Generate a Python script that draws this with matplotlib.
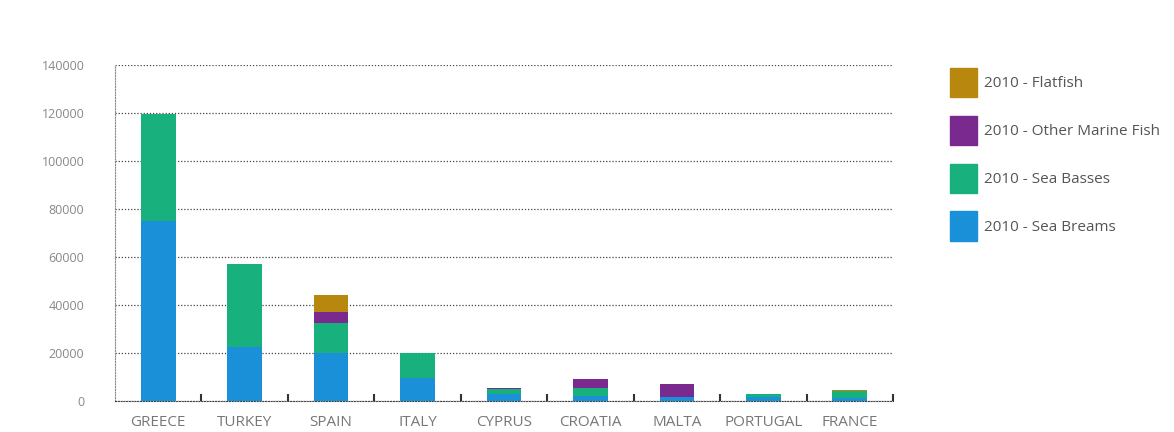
import matplotlib.pyplot as plt
import numpy as np
from matplotlib.patches import Patch

plt.rcParams['font.family'] = ['Open Sans', 'DejaVu Sans']

countries = ['GREECE', 'TURKEY', 'SPAIN', 'ITALY', 'CYPRUS', 'CROATIA', 'MALTA', 'PORTUGAL', 'FRANCE']
sea_breams = [75000, 22500, 20000, 9500, 3000, 2000, 1500, 1500, 1200]
sea_basses = [44500, 34500, 12500, 10500, 2000, 3500, 0, 1300, 3000]
other_marine = [0, 0, 4600, 0, 400, 3700, 5600, 0, 0]
flatfish = [0, 0, 7100, 0, 0, 0, 0, 100, 400]

series = [
    ('2010 - Sea Breams', sea_breams, '#1990d8'),
    ('2010 - Sea Basses', sea_basses, '#18b07c'),
    ('2010 - Other Marine Fish', other_marine, '#7a2a8e'),
    ('2010 - Flatfish', flatfish, '#b8870e'),
]

fig = plt.figure(figsize=(11.74, 4.32), dpi=100)
ax = fig.add_axes([115 / 1174, 31 / 432, 778 / 1174, 336 / 432])

x = np.arange(len(countries))
bottom = np.zeros(len(countries))
for label, vals, color in series:
    ax.bar(x, vals, 0.4, bottom=bottom, color=color, label=label, zorder=3)
    bottom += np.array(vals)

ax.set_xlim(-0.5, len(countries) - 0.5)
ax.set_ylim(0, 140000)
ax.set_yticks(np.arange(0, 140001, 20000))
ax.set_xticks(x)
ax.set_xticklabels(countries)
ax.set_xticks(np.arange(0.5, len(countries), 1), minor=True)
ax.tick_params(axis='x', which='major', length=0, pad=10, labelsize=11, labelcolor='#777777')
ax.tick_params(axis='x', which='minor', length=5, width=1.5, color='#333333', direction='in')
ax.tick_params(axis='y', length=0, pad=22, labelsize=9, labelcolor='#888888')
ax.grid(axis='y', linestyle=(0, (1, 1.5)), color='#444444', linewidth=0.9, zorder=0)
for s in ['top', 'right']:
    ax.spines[s].set_visible(False)
ax.spines['left'].set_linestyle((0, (1, 1.5)))
ax.spines['left'].set_color('#888888')
ax.spines['bottom'].set_linestyle((0, (1, 1.5)))
ax.spines['bottom'].set_color('#444444')

handles = [Patch(color=c, label=l) for l, v, c in series[::-1]]
fig.legend(handles=handles, loc='upper left', bbox_to_anchor=(936 / 1174, 1 - 54 / 432),
           frameon=False, fontsize=11, handlelength=1.8, handleheight=2.6,
           labelspacing=1.2, handletextpad=0.45, labelcolor='#555555')

fig.savefig('out.png', dpi=100, facecolor='white')
